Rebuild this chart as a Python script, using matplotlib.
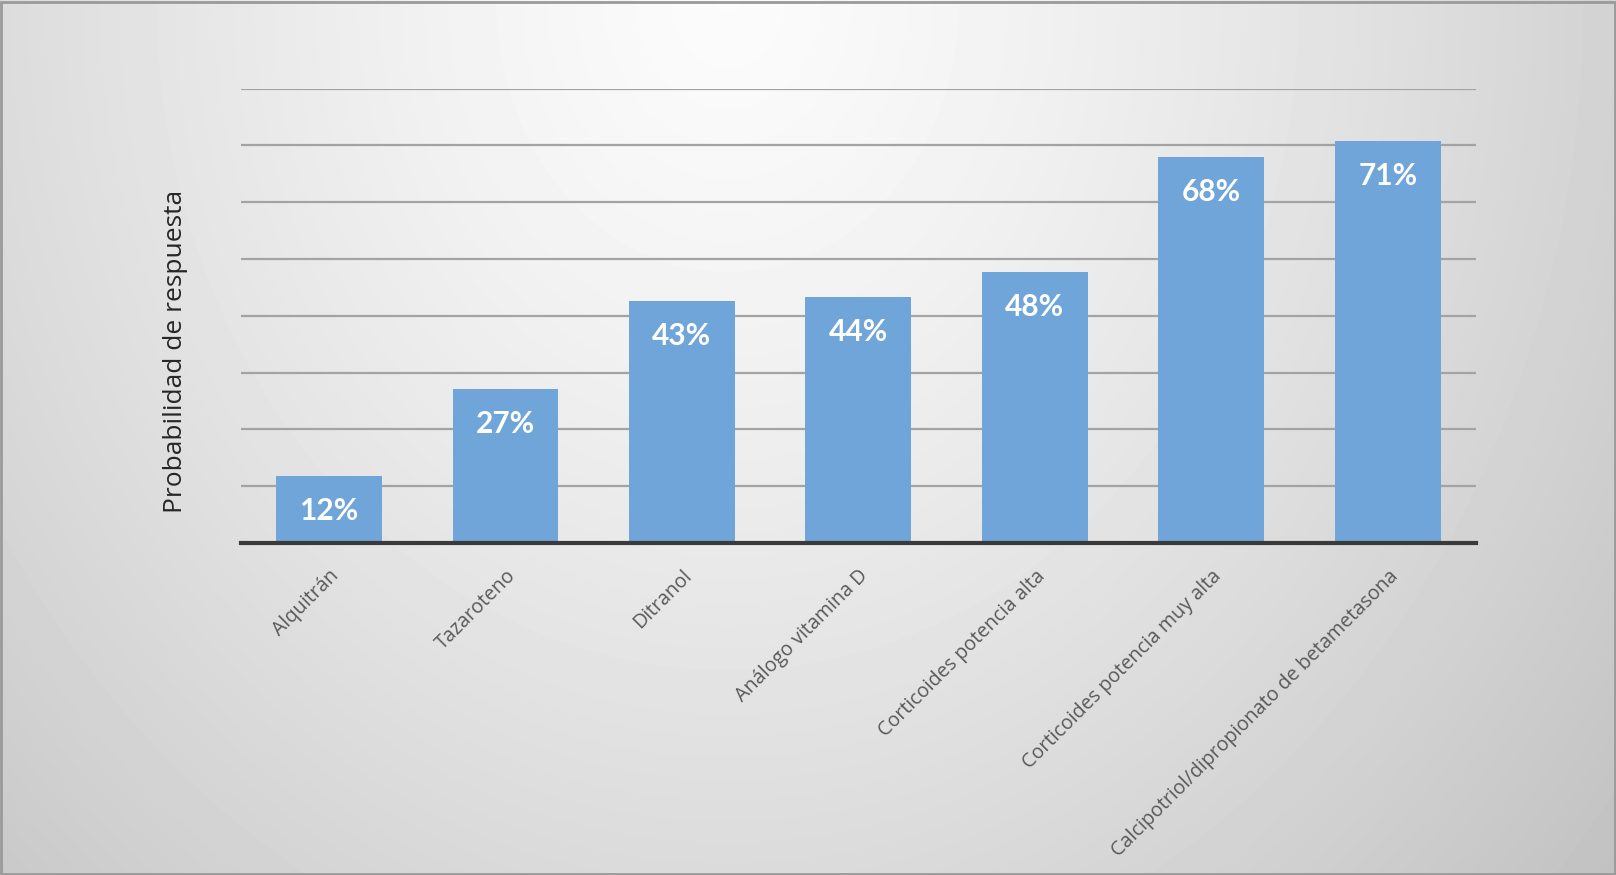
import numpy as np
import matplotlib
matplotlib.use("Agg")
import matplotlib.pyplot as plt
from matplotlib.patches import Rectangle

categories = ["Alquitrán", "Tazaroteno", "Ditranol", "Análogo vitamina D",
              "Corticoides potencia alta", "Corticoides potencia muy alta",
              "Calcipotriol/dipropionato de betametasona"]
values = [11.8, 27.1, 42.6, 43.3, 47.8, 67.9, 70.7]
labels = ["12%", "27%", "43%", "44%", "48%", "68%", "71%"]
ylabel = "Probabilidad de respuesta"

W, H = 1616, 875
fig = plt.figure(figsize=(W / 100, H / 100), dpi=100)

# background gradient
bg = fig.add_axes([0, 0, 1, 1], zorder=-10)
yy, xx = np.mgrid[0:H, 0:W]
d = np.sqrt(((xx - 0.45 * W) / (0.6 * W)) ** 2 + ((yy - 0.0) / (1.3 * H)) ** 2)
v = np.clip(0.985 - 0.18 * d ** 1.3, 0.75, 1.0)
bg.imshow(v, cmap="gray", vmin=0, vmax=1, aspect="auto", extent=[0, 1, 0, 1], origin="upper")
bg.add_patch(Rectangle((0.0008, 0.001), 0.9984, 0.997, fill=False, edgecolor="#9a9a9a", lw=2, transform=bg.transAxes))
bg.set_axis_off()

ax = fig.add_axes([0.149, 0.3794, 0.7644, 0.5193])
ax.patch.set_alpha(0)
x = np.arange(len(categories))
bars = ax.bar(x, values, width=0.6, color="#6fa5d8", zorder=3)
ax.set_xlim(-0.5, len(categories) - 0.5)
ax.set_ylim(0, 80)
ax.set_yticks(np.arange(0, 81, 10))
ax.yaxis.grid(True, color="#a3a3a3", lw=1.6, zorder=0)
ax.set_axisbelow(True)
for s in ["top", "right", "left"]:
    ax.spines[s].set_visible(False)
ax.spines["bottom"].set_color("#3a3a3a")
ax.spines["bottom"].set_linewidth(3)
ax.spines["bottom"].set_zorder(4)
ax.tick_params(axis="y", left=False, labelleft=False)
ax.tick_params(axis="x", bottom=False, pad=13)
ax.set_xticks(x)
ax.set_xticklabels(categories, rotation=45, ha="right", va="top", rotation_mode="anchor",
                   fontsize=14.2, color="#595959", family="Open Sans")

for xi, val, lab in zip(x, values, labels):
    ax.annotate(lab, (xi, val), xytext=(0, -35), textcoords="offset pixels",
                ha="center", va="center", color="white", fontsize=21.5,
                fontweight="bold", family="Lato", zorder=5)

fig.text(175 / W, 1 - 351 / H, ylabel, rotation=90, ha="center", va="center",
         fontsize=19, color="#262626", family="Open Sans")

fig.savefig("out.png", dpi=100)
